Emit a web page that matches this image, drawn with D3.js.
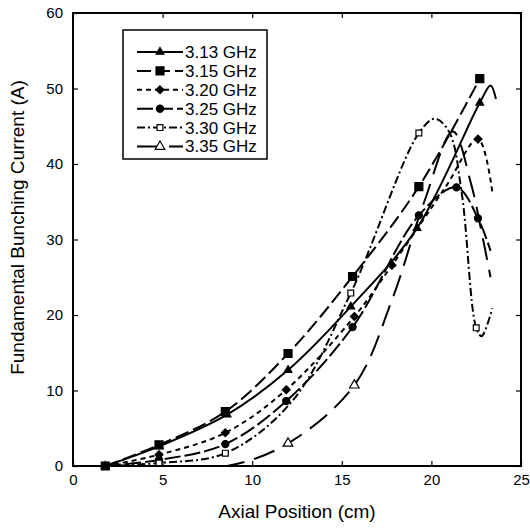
<!DOCTYPE html>
<html>
<head>
<meta charset="utf-8">
<script src="https://cdn.jsdelivr.net/npm/d3@7"></script>
<style>
  body { margin: 0; background: #fff; }
  svg { font-family: "Liberation Sans", Arial, sans-serif; }
</style>
</head>
<body>
<div id="chart"></div>
<script>
// tick values
const xTicks = [0, 5, 10, 15, 20, 25];
const yTicks = [0, 10, 20, 30, 40, 50, 60];

const seriesNames = ["3.13 GHz", "3.15 GHz", "3.20 GHz", "3.25 GHz", "3.30 GHz", "3.35 GHz"];

// smooth line knots [axial position cm, current A]
const curve313 = [[1.8, 0], [4.8, 2.6], [8.6, 6.8], [12, 12.7], [15.5, 21.1], [19.2, 31.5], [22.7, 48.1], [23.3, 50.4], [23.6, 48.6]];
const curve315 = [[1.8, 0], [4.8, 2.8], [8.5, 7.2], [12, 14.9], [15.6, 25.1], [19.3, 37.0], [22.7, 51.3]];
const curve320 = [[1.8, 0], [4.8, 1.5], [8.5, 4.4], [11.9, 10.1], [15.7, 19.8], [17.8, 26.6], [20.8, 37.0], [22.6, 43.3], [23.4, 36.3]];
const curve325 = [[1.8, 0], [4.8, 0.8], [8.5, 2.9], [11.9, 8.6], [15.6, 18.4], [19.3, 33.2], [21.4, 36.9], [22.6, 32.8], [23.3, 28.5]];
const curve330 = [[1.8, 0], [4.8, 0.4], [8.5, 1.7], [12.2, 8.5], [15.5, 22.9], [19.3, 44.1], [20.2, 46.0], [21.0, 44.2], [21.7, 36.0], [22.5, 18.3], [22.8, 17.2], [23.4, 20.9]];
const curve335 = [[4.8, 0], [8.6, 0], [12, 3.0], [15.7, 10.7], [17.8, 22.0], [19.6, 35.0], [21.2, 44.3], [22.2, 37.5], [22.8, 31.0], [23.3, 25.0]];

// measured points (markers)
const marks313 = [[1.8, 0], [4.8, 2.6], [8.6, 6.8], [12, 12.7], [15.5, 21.1], [19.2, 31.5], [22.7, 48.1]];
const marks315 = [[1.8, 0], [4.8, 2.8], [8.5, 7.2], [12, 14.9], [15.6, 25.1], [19.3, 37.0], [22.7, 51.3]];
const marks320 = [[4.8, 1.5], [8.5, 4.4], [11.9, 10.1], [15.7, 19.8], [17.8, 26.6], [22.6, 43.3]];
const marks325 = [[4.8, 0.8], [8.5, 2.9], [11.9, 8.6], [15.6, 18.4], [19.3, 33.2], [21.4, 36.9], [22.6, 32.8]];
const marks330 = [[4.8, 0.4], [8.5, 1.7], [15.5, 22.9], [19.3, 44.1], [22.5, 18.3]];
const marks335 = [[12, 3.0], [15.7, 10.7]];

const curves = [curve313, curve315, curve320, curve325, curve330, curve335];
const marks = [marks313, marks315, marks320, marks325, marks330, marks335];

// drawing styles per series
const dashes = ["none", "14,5", "5,4", "16,4", "8,3,2,3", "22,10"];
const symbols = [d3.symbolTriangle, d3.symbolSquare, d3.symbolDiamond2, d3.symbolCircle, d3.symbolSquare, d3.symbolTriangle];
const symSizes = [26, 64, 40, 40, 34, 40];
const symFill = ["#000", "#000", "#000", "#000", "#fff", "#fff"];

const width = 530, height = 530;
const plot = {left: 73, right: 521, top: 13, bottom: 466};

const svg = d3.select("#chart").append("svg")
    .attr("width", width)
    .attr("height", height);

const x = d3.scaleLinear().domain([0, 25]).range([plot.left, plot.right]);
const y = d3.scaleLinear().domain([0, 60]).range([plot.bottom, plot.top]);

svg.append("defs").append("clipPath")
    .attr("id", "plot-clip")
  .append("rect")
    .attr("x", plot.left)
    .attr("y", plot.top)
    .attr("width", plot.right - plot.left)
    .attr("height", plot.bottom - plot.top);

const line = d3.line()
    .x(d => x(d[0]))
    .y(d => y(d[1]))
    .curve(d3.curveCatmullRom.alpha(0.5));

// lines
const lineG = svg.append("g").attr("clip-path", "url(#plot-clip)");
curves.forEach((c, i) => {
  lineG.append("path")
      .attr("d", line(c))
      .attr("fill", "none")
      .attr("stroke", "#000")
      .attr("stroke-width", 2)
      .attr("stroke-dasharray", dashes[i]);
});

// markers
marks.forEach((m, i) => {
  const sym = d3.symbol().type(symbols[i]).size(symSizes[i]);
  svg.append("g").selectAll("path")
    .data(m)
    .join("path")
      .attr("d", sym)
      .attr("transform", d => `translate(${x(d[0])},${y(d[1])})`)
      .attr("fill", symFill[i])
      .attr("stroke", "#000")
      .attr("stroke-width", 1.2);
});

// axes, ticks pointing inward
const xAxis = d3.axisBottom(x).tickValues(xTicks).tickSizeInner(-5).tickSizeOuter(0).tickPadding(8);
const yAxis = d3.axisLeft(y).tickValues(yTicks).tickSizeInner(-5).tickSizeOuter(0).tickPadding(10);

svg.append("g")
    .attr("transform", `translate(0,${plot.bottom})`)
    .call(xAxis)
    .call(g => g.select(".domain").remove())
    .call(g => g.selectAll("text").attr("font-size", 15).attr("fill", "#000").attr("font-family", null));

svg.append("g")
    .attr("transform", `translate(${plot.left},0)`)
    .call(yAxis)
    .call(g => g.select(".domain").remove())
    .call(g => g.selectAll("text").attr("font-size", 15).attr("fill", "#000").attr("font-family", null));

svg.append("g")
    .attr("transform", `translate(0,${plot.top})`)
    .call(d3.axisTop(x).tickValues(xTicks).tickSizeInner(-5).tickSizeOuter(0).tickFormat(""))
    .call(g => g.select(".domain").remove());

svg.append("g")
    .attr("transform", `translate(${plot.right},0)`)
    .call(d3.axisRight(y).tickValues(yTicks).tickSizeInner(-5).tickSizeOuter(0).tickFormat(""))
    .call(g => g.select(".domain").remove());

svg.selectAll(".tick line").attr("stroke", "#000").attr("stroke-width", 1.2);

// frame
svg.append("rect")
    .attr("x", plot.left)
    .attr("y", plot.top)
    .attr("width", plot.right - plot.left)
    .attr("height", plot.bottom - plot.top)
    .attr("fill", "none")
    .attr("stroke", "#000")
    .attr("stroke-width", 2);

// axis titles
svg.append("text")
    .attr("x", (plot.left + plot.right) / 2)
    .attr("y", 518)
    .attr("text-anchor", "middle")
    .attr("font-size", 19)
    .text("Axial Position (cm)");

svg.append("text")
    .attr("transform", `translate(24,${(plot.top + plot.bottom) / 2 - 12}) rotate(-90)`)
    .attr("text-anchor", "middle")
    .attr("font-size", 19)
    .text("Fundamental Bunching Current (A)");

// legend
const legend = svg.append("g");
legend.append("rect")
    .attr("x", 123).attr("y", 30)
    .attr("width", 144).attr("height", 129)
    .attr("fill", "#fff")
    .attr("stroke", "#000")
    .attr("stroke-width", 1.5);

seriesNames.forEach((name, i) => {
  const ly = 52 + i * 18.9;
  legend.append("line")
      .attr("x1", 137).attr("x2", 183)
      .attr("y1", ly).attr("y2", ly)
      .attr("stroke", "#000")
      .attr("stroke-width", 2)
      .attr("stroke-dasharray", dashes[i]);
  legend.append("path")
      .attr("d", d3.symbol().type(symbols[i]).size(symSizes[i])())
      .attr("transform", `translate(160,${ly})`)
      .attr("fill", symFill[i])
      .attr("stroke", "#000")
      .attr("stroke-width", 1.2);
  legend.append("text")
      .attr("x", 185)
      .attr("y", ly)
      .attr("dy", "0.35em")
      .attr("font-size", 17)
      .text(name);
});
</script>
</body>
</html>
